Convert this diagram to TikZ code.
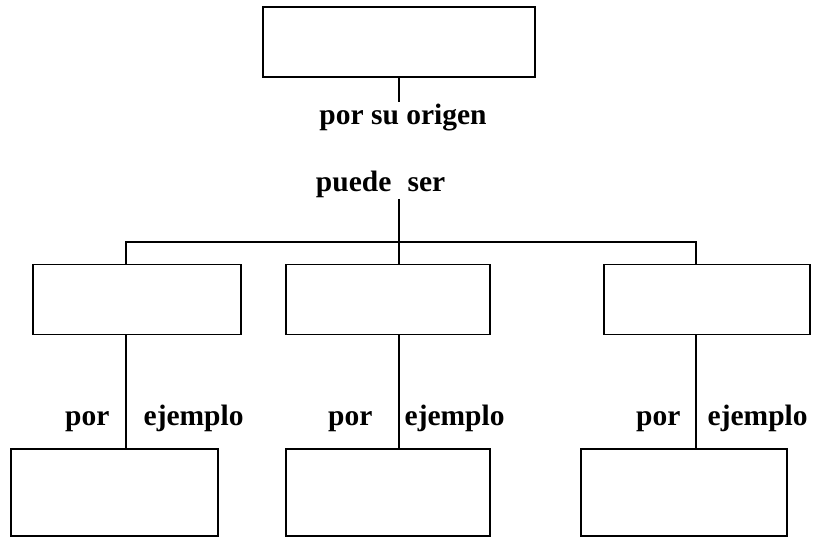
\documentclass[tikz,border=0pt]{standalone}
\usepackage{fontspec}
\setmainfont{Liberation Serif}
\usetikzlibrary{positioning}

\begin{document}
\begin{tikzpicture}[x=1pt,y=1pt,line width=1.3pt]
\tikzstyle{caja}=[draw, minimum height=70pt, inner sep=0pt]
\tikzstyle{ejemplo}=[caja, minimum height=87pt]
\tikzstyle{lbl}=[font=\bfseries\fontsize{29.5}{34}\selectfont, inner sep=0pt]

\useasboundingbox (0,0) rectangle (813,-537);

\node (origen) [caja, minimum width=272pt] at (399,-42) {};
\node (tipoa) [caja, minimum width=208pt] at (137,-299.5) {};
\node (tipob) [caja, minimum width=204pt] at (388,-299.5) {};
\node (tipoc) [caja, minimum width=206pt] at (707,-299.5) {};
\node (ejema) [ejemplo, minimum width=207pt] at (114.5,-492.5) {};
\node (ejemb) [ejemplo, minimum width=204pt] at (388,-492.5) {};
\node (ejemc) [ejemplo, minimum width=206pt] at (684,-492.5) {};

\coordinate (rama) at (399,-242);
\coordinate (ramaa) at (126,-242);
\coordinate (ramac) at (696,-242);

\node (porsu) [lbl, anchor=base] at (403,-125) {por su origen};
\node (puede) [lbl, anchor=base east] at (392,-192) {puede};
\node (ser) [lbl, anchor=base west] at (407,-192) {ser};

\draw (origen.south -| rama) -- ([yshift=2pt]porsu.north -| rama);
\draw (puede.south -| rama) -- (rama |- tipob.north);
\draw (ramaa |- tipoa.north) -- (ramaa) -- (ramac) -- (ramac |- tipoc.north);

\draw (tipoa.south -| ramaa) -- (ejema.north -| ramaa);
\draw (tipob.south -| rama) -- (ejemb.north -| rama);
\draw (tipoc.south -| ramac) -- (ejemc.north -| ramac);

\node (pora) [lbl, anchor=base east] at (110,-425) {por};
\node (ejpa) [lbl, anchor=base west] at (143,-425) {ejemplo};
\node (porb) [lbl, anchor=base east] at (373,-425) {por};
\node (ejpb) [lbl, anchor=base west] at (404,-425) {ejemplo};
\node (porc) [lbl, anchor=base east] at (681,-425) {por};
\node (ejpc) [lbl, anchor=base west] at (707,-425) {ejemplo};
\end{tikzpicture}
\end{document}
